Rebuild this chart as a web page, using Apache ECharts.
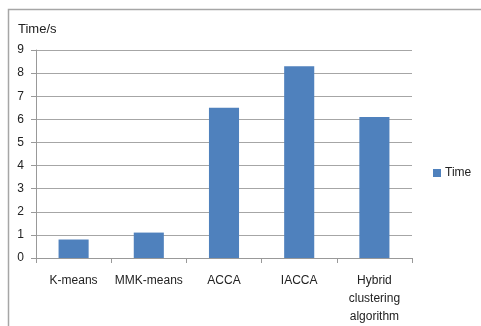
<!DOCTYPE html>
<html>
<head>
<meta charset="utf-8">
<script src="https://cdn.jsdelivr.net/npm/echarts@6/dist/echarts.min.js"></script>
<style>
  html, body { margin: 0; padding: 0; background: #fff; }
  #chart { width: 481px; height: 326px; }
</style>
</head>
<body>
<div id="chart"></div>
<script>
// data
const categories = ['K-means', 'MMK-means', 'ACCA', 'IACCA', 'Hybrid\nclustering\nalgorithm'];
const timeValues = [0.8, 1.1, 6.5, 8.3, 6.1];
const seriesName = 'Time';
const yTicks = { min: 0, max: 9, interval: 1 };

const chart = echarts.init(document.querySelector('#chart'));

const textFont = 'Liberation Sans, Arial, sans-serif';

chart.setOption({
  animation: false,
  textStyle: { fontFamily: textFont },
  graphic: [{
    // outer frame (top + left edges visible)
    type: 'polyline',
    shape: { points: [[8.5, 340], [8.5, 9.5], [490, 9.5]] },
    style: { stroke: '#a6a6a6', lineWidth: 1.5, fill: null },
    silent: true
  }, {
    type: 'text',
    left: 18,
    top: 23,
    style: { text: 'Time/s', fontSize: 13, fill: '#222', fontFamily: textFont }
  }],
  legend: {
    data: [seriesName],
    left: 428,
    top: 162,
    itemWidth: 8,
    itemHeight: 8,
    itemGap: 4,
    icon: 'rect',
    textStyle: { fontSize: 12, color: '#222', padding: [0, 0, 0, -1] }
  },
  grid: {
    left: 36,
    top: 50,
    width: 376,
    height: 208,
    containLabel: false
  },
  xAxis: {
    type: 'category',
    data: categories,
    axisLine: { lineStyle: { color: '#999', width: 1 } },
    axisTick: { show: true, length: 5, lineStyle: { color: '#999' } },
    axisLabel: {
      color: '#222',
      fontSize: 12,
      margin: 14,
      lineHeight: 18,
      interval: 0
    }
  },
  yAxis: {
    type: 'value',
    min: yTicks.min,
    max: yTicks.max,
    interval: yTicks.interval,
    axisLine: { show: true, lineStyle: { color: '#999' } },
    axisTick: { show: true, length: 5, lineStyle: { color: '#999' } },
    axisLabel: { color: '#222', fontSize: 12, margin: 12 },
    splitLine: { show: true, lineStyle: { color: '#a6a6a6', width: 1 } }
  },
  series: [{
    name: seriesName,
    type: 'bar',
    data: timeValues,
    barWidth: '40%',
    itemStyle: { color: '#4f81bd' }
  }]
});
</script>
</body>
</html>
